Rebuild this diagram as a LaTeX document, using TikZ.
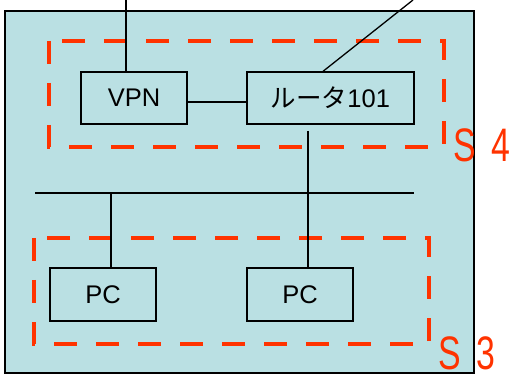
\documentclass[tikz,border=0pt]{standalone}
\usepackage{fontspec}
\setmainfont{Liberation Sans}
\newfontfamily\cjk{Noto Sans CJK JP}
\definecolor{panelblue}{HTML}{BAE0E3}
\definecolor{zonered}{HTML}{FF3300}
\tikzset{
  box/.style={draw,line width=1.3pt,minimum width=106pt,minimum height=52pt,inner sep=0pt,
    font=\fontsize{25.5}{25.5}\selectfont},
  zonebox/.style={draw=zonered,line width=4pt,dash pattern=on 23pt off 19pt},
  tag/.style={text=zonered,font=\fontsize{47}{47}\selectfont,xscale=0.72,inner sep=0pt,anchor=base},
  wire/.style={line width=1.3pt}
}
\begin{document}
\begin{tikzpicture}[x=1pt,y=-1pt]
\useasboundingbox (0,0) rectangle (517,374);
\draw[fill=panelblue,line width=1.3pt] (5,11) rectangle (474,373);
% security zones
\draw[zonebox] (49,41) rectangle (444,147);
\draw[zonebox] (34,238) rectangle (429,344);
\node[tag] (s4) at (482,162) {S\hspace{0.45em}4};
\node[tag] (s3) at (467,369.5) {S\hspace{0.45em}3};
% devices
\node[box] (vpn) at (134,98) {VPN};
\node[box,minimum width=167pt] (router) at (330.5,98) {{\cjk ルータ}101};
\node[box,minimum height=53pt] (pca) at (103,294.5) {PC};
\node[box,minimum height=53pt] (pcb) at (300,294.5) {PC};
\coordinate (wan1) at (126,0);
\coordinate (wan2) at (413,0);
\coordinate (busL) at (35,193);
\coordinate (busR) at (414,193);
\coordinate (tapA) at (111,193);
\coordinate (tapB) at (308,131);
% wiring
\draw[wire] (wan1) -- (wan1 |- vpn.north);
\draw[wire] (wan2) -- ([xshift=-7.5pt]router.north);
\draw[wire] ([yshift=-4pt]vpn.east) -- ([yshift=-4pt]router.west);
\draw[wire] (busL) -- (busR);
\draw[wire] (tapA) -- (tapA |- pca.north);
\draw[wire] (tapB) -- (tapB |- pcb.north);
\end{tikzpicture}
\end{document}
